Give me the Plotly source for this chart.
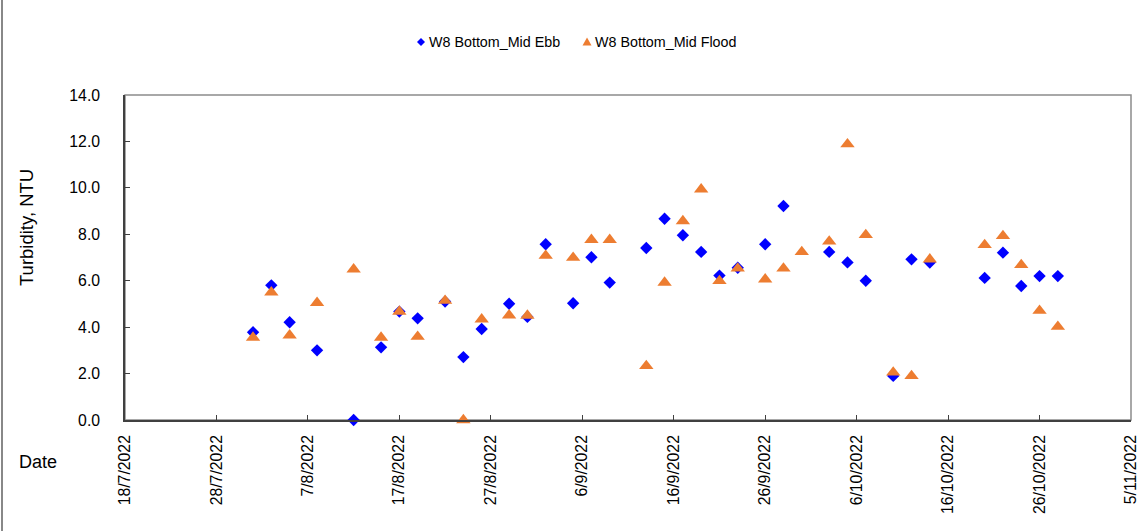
import plotly.graph_objects as go

ebb_dates = ["2022-08-01", "2022-08-03", "2022-08-05", "2022-08-08", "2022-08-12", "2022-08-15",
             "2022-08-17", "2022-08-19", "2022-08-22", "2022-08-24", "2022-08-26", "2022-08-29",
             "2022-08-31", "2022-09-02", "2022-09-05", "2022-09-07", "2022-09-09", "2022-09-13",
             "2022-09-15", "2022-09-17", "2022-09-19", "2022-09-21", "2022-09-23", "2022-09-26",
             "2022-09-28", "2022-10-03", "2022-10-05", "2022-10-07", "2022-10-10", "2022-10-12",
             "2022-10-14", "2022-10-20", "2022-10-22", "2022-10-24", "2022-10-26", "2022-10-28"]
ebb_values = [3.78, 5.8, 4.21, 3.0, 0.0, 3.13, 4.67, 4.38, 5.1, 2.71, 3.92, 5.01,
              4.44, 7.57, 5.03, 7.01, 5.92, 7.41, 8.67, 7.96, 7.24, 6.22, 6.56, 7.57,
              9.22, 7.24, 6.79, 6.0, 1.9, 6.92, 6.78, 6.12, 7.21, 5.77, 6.2, 6.2]

flood_dates = ["2022-08-01", "2022-08-03", "2022-08-05", "2022-08-08", "2022-08-12", "2022-08-15",
               "2022-08-17", "2022-08-19", "2022-08-22", "2022-08-24", "2022-08-26", "2022-08-29",
               "2022-08-31", "2022-09-02", "2022-09-05", "2022-09-07", "2022-09-09", "2022-09-13",
               "2022-09-15", "2022-09-17", "2022-09-19", "2022-09-21", "2022-09-23", "2022-09-26",
               "2022-09-28", "2022-09-30", "2022-10-03", "2022-10-05", "2022-10-07", "2022-10-10",
               "2022-10-12", "2022-10-14", "2022-10-20", "2022-10-22", "2022-10-24", "2022-10-26",
               "2022-10-28"]
flood_values = [3.55, 5.5, 3.65, 5.05, 6.49, 3.55, 4.67, 3.59, 5.14, 0.0, 4.34, 4.51,
                4.5, 7.08, 6.99, 7.76, 7.76, 2.33, 5.92, 8.57, 9.94, 5.99, 6.53, 6.06,
                6.53, 7.24, 7.69, 11.88, 7.97, 2.05, 1.9, 6.92, 7.54, 7.93, 6.68, 4.71,
                4.02]

series_names = ["W8 Bottom_Mid Ebb", "W8 Bottom_Mid Flood"]
x_range = ["2022-07-18", "2022-11-05"]
y_range = [0, 14]

FONT = "Liberation Sans, Arial, sans-serif"
W, H = 1139, 531
L, R, T, B = 125, 1131, 95, 420
BLUE, ORANGE = "#0000FF", "#ED7D31"


def px_x(p):
    return (p - L) / (R - L)


def px_y(p):
    return (B - p) / (B - T)


fig = go.Figure()
fig.add_trace(go.Scatter(
    x=ebb_dates, y=ebb_values, mode="markers", name=series_names[0],
    marker=dict(symbol="diamond", size=9.5, color=BLUE, line=dict(width=0)),
    cliponaxis=False, showlegend=False,
))
fig.add_trace(go.Scatter(
    x=flood_dates, y=flood_values, mode="markers", name=series_names[1],
    marker=dict(symbol="triangle-up", size=12.5, color=ORANGE, line=dict(width=0)),
    cliponaxis=False, showlegend=False,
))

legend_y = 42
shapes = [
    dict(type="rect", xref="paper", yref="paper", x0=0, x1=1, y0=0, y1=1,
         line=dict(color="#8C8C8C", width=1.5), layer="below"),
    dict(type="line", xref="paper", yref="paper",
         x0=px_x(2), x1=px_x(2), y0=px_y(H), y1=px_y(0),
         line=dict(color="#606060", width=1.5)),
    # custom legend symbols
    dict(type="path", xref="paper", yref="paper", xsizemode="pixel", ysizemode="pixel",
         xanchor=px_x(421), yanchor=px_y(legend_y),
         path="M0,-4 L4,0 L0,4 L-4,0 Z", fillcolor=BLUE, line=dict(width=0)),
    dict(type="path", xref="paper", yref="paper", xsizemode="pixel", ysizemode="pixel",
         xanchor=px_x(587), yanchor=px_y(legend_y),
         path="M-4.5,-3.5 L4.5,-3.5 L0,4.5 Z", fillcolor=ORANGE, line=dict(width=0)),
]

annotations = [
    dict(text=series_names[0], xref="paper", yref="paper", x=px_x(427), y=px_y(legend_y),
         xanchor="left", yanchor="middle", showarrow=False, font=dict(size=14.3, family=FONT)),
    dict(text=series_names[1], xref="paper", yref="paper", x=px_x(593), y=px_y(legend_y),
         xanchor="left", yanchor="middle", showarrow=False, font=dict(size=14.3, family=FONT)),
    dict(text="Turbidity, NTU", textangle=-90, xref="paper", yref="paper",
         x=px_x(27), y=px_y(228), xanchor="center", yanchor="middle",
         showarrow=False, font=dict(size=18.5, family=FONT)),
    dict(text="Date", xref="paper", yref="paper",
         x=px_x(38), y=px_y(462), xanchor="center", yanchor="middle",
         showarrow=False, font=dict(size=18, family=FONT)),
]

fig.update_layout(
    width=W, height=H,
    margin=dict(l=L, r=W - R, t=T, b=H - B, pad=0),
    paper_bgcolor="white", plot_bgcolor="white",
    font=dict(family=FONT, color="#000000", size=14),
    showlegend=False,
    xaxis=dict(
        type="date", range=x_range, tick0=x_range[0], dtick=10 * 86400000,
        tickformat="%-d/%-m/%Y", tickangle=-90, ticks="inside", ticklen=5,
        tickcolor="#404040", tickwidth=1, showgrid=False, zeroline=False,
        showline=True, linecolor="#404040", linewidth=1.5, automargin=False,
        tickfont=dict(size=15.8, family=FONT), ticklabelstandoff=7,
        ticklabeloverflow="allow",
    ),
    yaxis=dict(
        range=y_range, dtick=2, tickformat=".1f", ticks="inside", ticklen=5,
        tickcolor="#404040", tickwidth=1, showgrid=False, zeroline=False,
        showline=True, linecolor="#404040", linewidth=1.5, automargin=False,
        tickfont=dict(size=15.8, family=FONT), ticklabelstandoff=20,
        ticklabeloverflow="allow",
    ),
    shapes=shapes,
    annotations=annotations,
)

fig.write_html("out.html", config={"displayModeBar": False},
               post_script="document.body.style.margin='0px';")
